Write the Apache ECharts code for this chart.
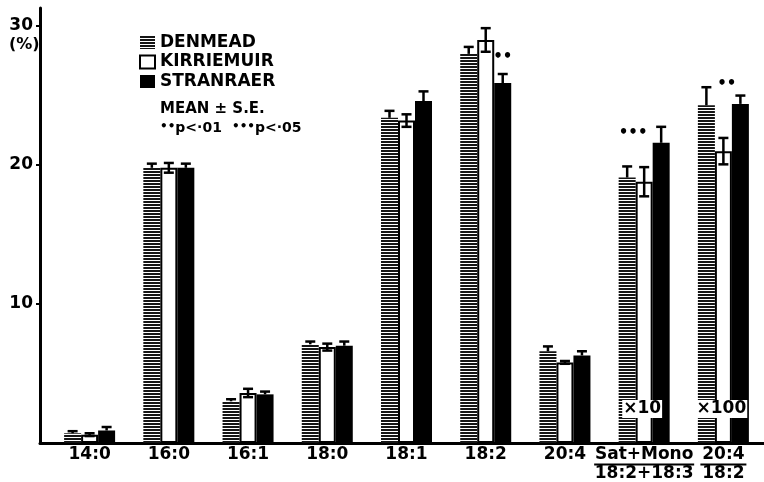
<!DOCTYPE html>
<html><head><meta charset="utf-8">
<script src="https://cdn.jsdelivr.net/npm/echarts@6/dist/echarts.min.js"></script>
<style>html,body{margin:0;padding:0;background:#fff}#c{width:764px;height:482px}</style>
</head><body><div id="c"></div>
<script>
// ---- data ----
const categories = ['14:0','16:0','16:1','18:0','18:1','18:2','20:4','Sat+Mono / 18:2+18:3','20:4 / 18:2'];
const denmead     = [0.7, 19.8, 3.0, 7.1, 23.4, 28.0, 6.6, 19.1, 24.3];
const denmeadErr  = [0.15, 0.3, 0.15, 0.2, 0.5, 0.5, 0.35, 0.8, 1.3];
const kirriemuir    = [0.6, 19.8, 3.6, 6.9, 23.2, 29.0, 5.8, 18.8, 21.0];
const kirriemuirErr = [0.1, 0.35, 0.3, 0.25, 0.45, 0.85, 0.1, 1.05, 0.95];
const stranraer    = [0.9, 19.8, 3.5, 7.0, 24.6, 25.9, 6.3, 21.6, 24.4];
const stranraerErr = [0.25, 0.3, 0.2, 0.3, 0.7, 0.65, 0.3, 1.15, 0.6];
const yTicks = [10, 20, 30];
const sigCats  = ['18:2', 'Sat+Mono / 18:2+18:3', '20:4 / 18:2'];
const sigText  = ['••', '•••', '••'];
const sigLevel = [27.8, 22.3, 25.8];
const scaleCats  = ['Sat+Mono / 18:2+18:3', '20:4 / 18:2'];
const scaleText  = ['×10', '×100'];
const scaleLevel = [2.45, 2.45];

// ---- styling ----
const FONT = "'DejaVu Sans', sans-serif";
const BAR_W = 17;
function hatch(){
  const c = document.createElement('canvas'); c.width = 6; c.height = 3;
  const g = c.getContext('2d');
  g.fillStyle = '#fff'; g.fillRect(0,0,6,3);
  g.fillStyle = '#151515'; g.fillRect(0,0,6,2);
  return c;
}
const hatchPattern = {image: hatch(), repeat: 'repeat'};

function errSeries(name, vals, errs, idx, full){
  return {
    type: 'custom', name: name + ' err', xAxisIndex: 0, yAxisIndex: 0, z: 5, silent: true,
    data: vals.map((v,i) => [i, v, errs[i]]),
    renderItem(params, api){
      const i = api.value(0), v = api.value(1), e = api.value(2);
      const c = api.coord([i, v]);
      const x = c[0] + (idx - 1) * BAR_W;
      const top = api.coord([i, v + e])[1];
      const bot = full ? api.coord([i, v - e])[1] : c[1];
      const cap = 5, lw = 2.5;
      const ch = [
        {type:'line', shape:{x1:x,y1:top,x2:x,y2:bot}, style:{stroke:'#000', lineWidth:lw}},
        {type:'line', shape:{x1:x-cap,y1:top,x2:x+cap,y2:top}, style:{stroke:'#000', lineWidth:lw}}
      ];
      if (full) ch.push({type:'line', shape:{x1:x-cap,y1:bot,x2:x+cap,y2:bot}, style:{stroke:'#000', lineWidth:lw}});
      return {type:'group', children: ch};
    }
  };
}

// bar offset (in bar widths from group centre) for each significance mark
const sigOffset = [1, -0.65, 0.2];

const chart = echarts.init(document.getElementById('c'), null, {renderer:'canvas'});
chart.setOption({
  animation: false,
  backgroundColor: '#fff',
  textStyle: {fontFamily: FONT},
  grid: [
    {left: 50, right: 1, top: 8, bottom: 39, containLabel:false, outerBoundsMode:'none'},
    {left: 40, right: 0, top: 8, bottom: 39, containLabel:false, outerBoundsMode:'none'}
  ],
  xAxis: [
    {type:'category', gridIndex:0, data: categories,
     axisLine:{show:false}, axisTick:{show:false},
     axisLabel:{interval:0, margin:4, color:'#000', fontFamily:FONT, fontWeight:'bold', fontSize:17, lineHeight:16,
       formatter: function(v){
         if (v.indexOf(' / ') >= 0){
           const p = v.split(' / ');
           const w = p[0].length > 5 ? 100 : 46;
           return '{a|' + p[0] + '}\n{hr' + (w===100?'L':'S') + '|}\n{a|' + p[1] + '}';
         }
         return v;
       },
       rich: {
         a: {fontFamily:FONT, fontWeight:'bold', fontSize:17, lineHeight:16, color:'#000'},
         hrL: {backgroundColor:'#000', width:100, height:2, lineHeight:3},
         hrS: {backgroundColor:'#000', width:46, height:2, lineHeight:3}
       }
     }},
    {type:'value', gridIndex:1, min:0, max:1,
     axisLine:{show:true, lineStyle:{color:'#000', width:3}},
     axisTick:{show:false}, axisLabel:{show:false}, splitLine:{show:false}}
  ],
  yAxis: [
    {type:'value', gridIndex:0, min:0, max:31.3, show:false, splitLine:{show:false}},
    {type:'value', gridIndex:1, min:0, max:31.3, interval:10,
     axisLine:{show:true, lineStyle:{color:'#000', width:3}},
     axisTick:{show:true, length:4, customValues: yTicks, lineStyle:{color:'#000', width:2}},
     axisLabel:{customValues: yTicks, margin:7, color:'#000', fontFamily:FONT, fontWeight:'bold', fontSize:17,
       formatter: v => (yTicks.indexOf(v) >= 0 ? String(v) : '')},
     splitLine:{show:false}}
  ],
  legend: {
    data: ['DENMEAD','KIRRIEMUIR','STRANRAER'],
    orient:'vertical', left:134, top:29, itemWidth:15, itemHeight:13, itemGap:2.5,
    icon:'rect',
    textStyle:{color:'#000', fontFamily:FONT, fontWeight:'bold', fontSize:17},
    selectedMode:false
  },
  series: [
    {type:'bar', name:'DENMEAD', xAxisIndex:0, yAxisIndex:0, data: denmead, barWidth:BAR_W, barGap:'0%',
     itemStyle:{color: hatchPattern}},
    {type:'bar', name:'KIRRIEMUIR', xAxisIndex:0, yAxisIndex:0, data: kirriemuir, barWidth:BAR_W, barGap:'0%',
     itemStyle:{color:'#fff', borderColor:'#000', borderWidth:2}},
    {type:'bar', name:'STRANRAER', xAxisIndex:0, yAxisIndex:0, data: stranraer, barWidth:BAR_W, barGap:'0%',
     itemStyle:{color:'#000'}},
    errSeries('DENMEAD', denmead, denmeadErr, 0, false),
    errSeries('KIRRIEMUIR', kirriemuir, kirriemuirErr, 1, true),
    errSeries('STRANRAER', stranraer, stranraerErr, 2, false),
    {type:'custom', name:'sig', xAxisIndex:0, yAxisIndex:0, z:6, silent:true,
     data: sigCats.map((c,i) => [categories.indexOf(c), sigLevel[i], i]),
     renderItem(params, api){
       const k = api.value(2);
       const p = api.coord([api.value(0), api.value(1)]);
       return {type:'text', x: p[0] + sigOffset[k]*BAR_W, y: p[1],
         style:{text: sigText[k], fill:'#000', font:'bold 15px ' + FONT, align:'center', verticalAlign:'middle'}};
     }},
    {type:'custom', name:'scale', xAxisIndex:0, yAxisIndex:0, z:7, silent:true,
     data: scaleCats.map((c,i) => [categories.indexOf(c), scaleLevel[i], i]),
     renderItem(params, api){
       const k = api.value(2);
       const p = api.coord([api.value(0), api.value(1)]);
       return {type:'text', x: p[0] - 2, y: p[1],
         style:{text: scaleText[k], fill:'#000', font:'bold 17px ' + FONT, align:'center', verticalAlign:'middle',
                backgroundColor:'#fff', padding:[1,1,0,1]}};
     }}
  ],
  graphic: [
    {type:'text', left:9, top:37, style:{text:'(%)', fill:'#000', font:'bold 16px ' + FONT}},
    {type:'text', left:160, top:102, style:{text:'MEAN ± S.E.', fill:'#000', font:'bold 15px ' + FONT}},
    {type:'text', left:160, top:121, style:{text:'{d|••}{t|p<·01}',
      rich:{d:{fontSize:12, fontWeight:'bold', fontFamily:FONT, fill:'#000', verticalAlign:'top'},
            t:{fontSize:14, fontWeight:'bold', fontFamily:FONT, fill:'#000'}}}},
    {type:'text', left:232, top:121, style:{text:'{d|•••}{t|p<·05}',
      rich:{d:{fontSize:12, fontWeight:'bold', fontFamily:FONT, fill:'#000', verticalAlign:'top'},
            t:{fontSize:14, fontWeight:'bold', fontFamily:FONT, fill:'#000'}}}}
  ]
});
</script>
</body></html>
